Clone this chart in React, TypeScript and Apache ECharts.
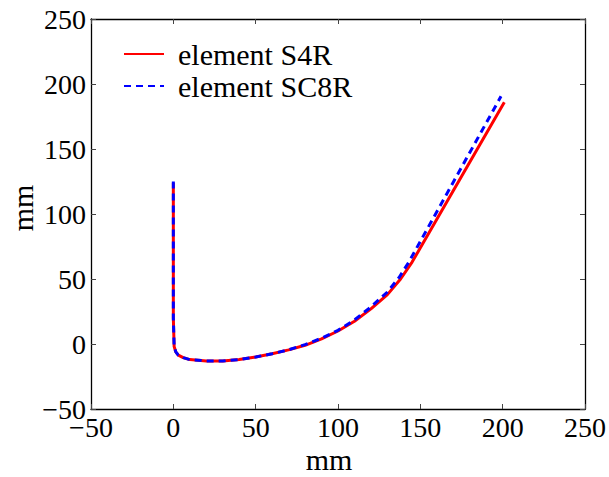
import React, { useEffect, useRef } from "react";
import * as echarts from "echarts";

const seriesNames = ["element S4R", "element SC8R"];
const s4rX = [0, 0, 0.5, 1.5, 3, 6, 10, 20, 30, 40, 50, 60, 70, 80, 90, 100, 110, 120, 130, 138, 145, 201];
const s4rY = [124, 20, -2, -6, -8.5, -10.5, -12, -13, -13, -12, -10, -7.5, -4.5, -1, 4, 10, 17.5, 27, 38, 50, 63, 186];
const sc8rX = [0, 0, 0.5, 1.5, 3, 6, 10, 20, 30, 40, 50, 60, 70, 80, 90, 100, 110, 120, 130, 137, 143, 199];
const sc8rY = [125, 20, -2, -6, -8.5, -10.5, -12, -13, -13, -12, -10, -7.5, -4.5, -0.5, 4.5, 10.5, 18.5, 28.5, 40, 51, 63, 190.5];
const axisMin = -50;
const axisMax = 250;
const axisStep = 50;
const axisTitle = "mm";

const FONT = "Liberation Serif, Times New Roman, serif";

function pairs(xs: number[], ys: number[]) {
  return xs.map((x, i) => [x, ys[i]]);
}

const fmt = (v: number) => String(v).replace("-", "\u2212");

export default function App() {
  const ref = useRef<HTMLDivElement>(null);
  useEffect(() => {
    if (!ref.current) return;
    const chart = echarts.init(ref.current, undefined, { renderer: "svg" });
    const baseAxis = {
      type: "value" as const,
      min: axisMin,
      max: axisMax,
      interval: axisStep,
      splitLine: { show: false },
      axisLine: { show: true, onZero: false, lineStyle: { color: "#000", width: 1.3 } },
      axisTick: { show: true, inside: true, length: 5, lineStyle: { color: "#444", width: 1 } },
    };
    chart.setOption({
      animation: false,
      backgroundColor: "#fff",
      textStyle: { fontFamily: FONT },
      grid: { left: 91, right: 23, top: 19, bottom: 68, containLabel: false },
      xAxis: [
        {
          ...baseAxis,
          position: "bottom",
          axisLabel: { color: "#000", fontSize: 28, fontFamily: FONT, margin: 4, formatter: fmt },
        },
        {
          ...baseAxis,
          position: "top",
          axisLabel: { show: false },
        },
      ],
      yAxis: [
        {
          ...baseAxis,
          position: "left",
          axisLabel: { color: "#000", fontSize: 28, fontFamily: FONT, margin: 5, formatter: fmt },
        },
        {
          ...baseAxis,
          position: "right",
          axisLabel: { show: false },
        },
      ],
      legend: {
        orient: "vertical",
        left: 123,
        top: 38,
        padding: 0,
        itemGap: 0,
        itemWidth: 40,
        itemHeight: 12,
        itemStyle: { opacity: 0 },
        textStyle: { color: "#000", fontSize: 30, fontFamily: FONT, lineHeight: 30, padding: [2, 0, 0, 9] },
        data: seriesNames,
      },
      series: [
        {
          name: seriesNames[0],
          type: "line",
          data: pairs(s4rX, s4rY),
          showSymbol: false,
          symbol: "none",
          smooth: false,
          lineStyle: { color: "#ff0000", width: 3 },
          itemStyle: { color: "#ff0000" },
        },
        {
          name: seriesNames[1],
          type: "line",
          data: pairs(sc8rX, sc8rY),
          showSymbol: false,
          symbol: "none",
          smooth: false,
          lineStyle: { color: "#0000ff", width: 3, type: [7, 5] },
          itemStyle: { color: "#0000ff" },
        },
      ],
      graphic: [
        {
          type: "text",
          x: 329,
          y: 459,
          style: { text: axisTitle, fontSize: 30, fontFamily: FONT, fill: "#000", align: "center", verticalAlign: "middle" },
        },
        {
          type: "text",
          x: 22,
          y: 208,
          rotation: Math.PI / 2,
          style: { text: axisTitle, fontSize: 30, fontFamily: FONT, fill: "#000", align: "center", verticalAlign: "middle" },
        },
      ],
    });
    return () => chart.dispose();
  }, []);
  return <div ref={ref} style={{ width: 609, height: 477, position: "absolute", left: 0, top: 0 }} />;
}
